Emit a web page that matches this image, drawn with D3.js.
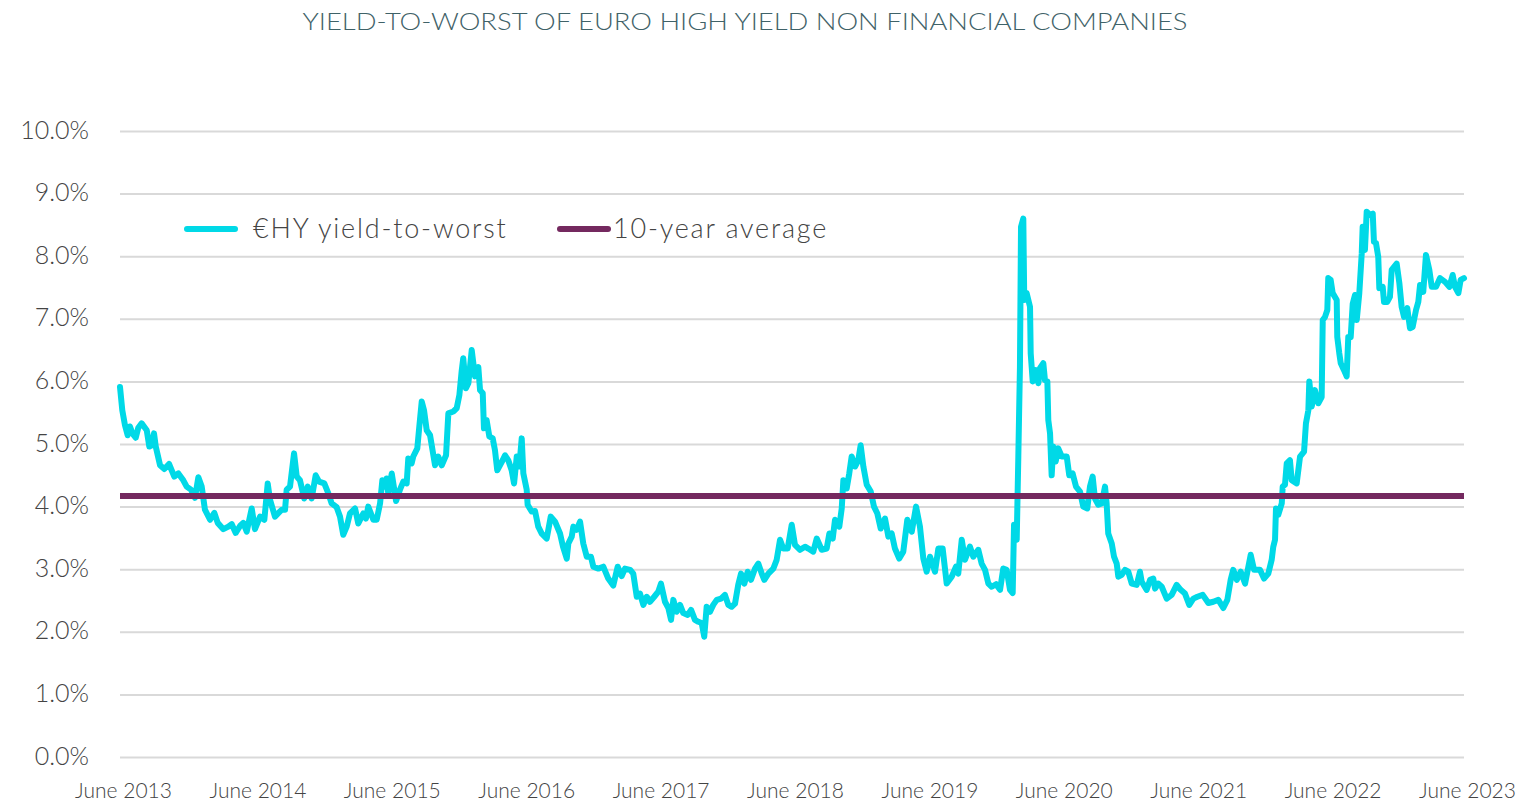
<!DOCTYPE html>
<html>
<head>
<meta charset="utf-8">
<script src="https://cdn.jsdelivr.net/npm/d3@7"></script>
<style>
  body { margin: 0; background: #fff; }
  text { font-family: Lato, "Noto Sans", sans-serif; font-weight: 300; }
</style>
</head>
<body>
<div id="chart"></div>
<script>
// chart text
const title = "YIELD-TO-WORST OF EURO HIGH YIELD NON FINANCIAL COMPANIES";
const seriesNames = ["€HY yield-to-worst", "10-year average"];

// dates as decimal years, yields in %
const dates = [
  2013.417, 2013.434, 2013.454, 2013.474, 2013.491, 2013.509, 2013.534, 2013.553, 2013.578, 2013.616,
  2013.635, 2013.653, 2013.670, 2013.683, 2013.715, 2013.747, 2013.782, 2013.821, 2013.851, 2013.888,
  2013.913, 2013.945, 2013.975, 2014.000, 2014.025, 2014.049, 2014.087, 2014.119, 2014.144, 2014.186,
  2014.223, 2014.248, 2014.278, 2014.310, 2014.334, 2014.360, 2014.397, 2014.421, 2014.459, 2014.491,
  2014.516, 2014.533, 2014.570, 2014.620, 2014.645, 2014.657, 2014.682, 2014.712, 2014.732, 2014.756,
  2014.788, 2014.814, 2014.843, 2014.873, 2014.898, 2014.937, 2014.967, 2014.992, 2015.029, 2015.054,
  2015.078, 2015.104, 2015.128, 2015.166, 2015.190, 2015.227, 2015.247, 2015.264, 2015.302, 2015.327,
  2015.352, 2015.369, 2015.389, 2015.401, 2015.413, 2015.439, 2015.471, 2015.500, 2015.525, 2015.550,
  2015.562, 2015.587, 2015.599, 2015.629, 2015.644, 2015.662, 2015.679, 2015.699, 2015.724, 2015.761,
  2015.785, 2015.811, 2015.843, 2015.860, 2015.897, 2015.922, 2015.942, 2015.959, 2015.971, 2015.991,
  2016.009, 2016.034, 2016.058, 2016.083, 2016.096, 2016.116, 2016.125, 2016.145, 2016.165, 2016.190,
  2016.207, 2016.224, 2016.264, 2016.282, 2016.306, 2016.331, 2016.349, 2016.369, 2016.388, 2016.406,
  2016.418, 2016.443, 2016.450, 2016.480, 2016.505, 2016.529, 2016.555, 2016.592, 2016.622, 2016.654,
  2016.691, 2016.713, 2016.741, 2016.753, 2016.778, 2016.790, 2016.815, 2016.840, 2016.864, 2016.890,
  2016.921, 2016.939, 2016.976, 2017.013, 2017.050, 2017.087, 2017.120, 2017.150, 2017.174, 2017.212,
  2017.236, 2017.262, 2017.286, 2017.311, 2017.336, 2017.360, 2017.392, 2017.422, 2017.442, 2017.472,
  2017.497, 2017.517, 2017.534, 2017.559, 2017.584, 2017.608, 2017.641, 2017.666, 2017.695, 2017.720,
  2017.745, 2017.764, 2017.782, 2017.807, 2017.831, 2017.857, 2017.889, 2017.918, 2017.943, 2017.968,
  2017.993, 2018.017, 2018.038, 2018.062, 2018.087, 2018.112, 2018.142, 2018.166, 2018.192, 2018.211,
  2018.241, 2018.278, 2018.303, 2018.328, 2018.352, 2018.385, 2018.415, 2018.439, 2018.477, 2018.514,
  2018.538, 2018.575, 2018.601, 2018.638, 2018.675, 2018.695, 2018.720, 2018.737, 2018.769, 2018.787,
  2018.799, 2018.824, 2018.843, 2018.861, 2018.886, 2018.910, 2018.928, 2018.948, 2018.973, 2019.003,
  2019.027, 2019.052, 2019.077, 2019.109, 2019.134, 2019.159, 2019.183, 2019.215, 2019.245, 2019.275,
  2019.308, 2019.340, 2019.369, 2019.394, 2019.419, 2019.444, 2019.481, 2019.506, 2019.538, 2019.568,
  2019.605, 2019.637, 2019.654, 2019.680, 2019.704, 2019.741, 2019.766, 2019.803, 2019.828, 2019.853,
  2019.878, 2019.903, 2019.935, 2019.965, 2019.989, 2020.014, 2020.039, 2020.059, 2020.069, 2020.089,
  2020.101, 2020.113, 2020.121, 2020.138, 2020.145, 2020.163, 2020.188, 2020.193, 2020.208, 2020.232,
  2020.250, 2020.262, 2020.287, 2020.299, 2020.317, 2020.324, 2020.337, 2020.349, 2020.361, 2020.379,
  2020.398, 2020.424, 2020.461, 2020.480, 2020.505, 2020.530, 2020.560, 2020.584, 2020.614, 2020.634,
  2020.654, 2020.671, 2020.696, 2020.721, 2020.746, 2020.758, 2020.770, 2020.796, 2020.813, 2020.833,
  2020.845, 2020.870, 2020.895, 2020.919, 2020.945, 2020.982, 2021.006, 2021.019, 2021.056, 2021.081,
  2021.105, 2021.118, 2021.143, 2021.168, 2021.205, 2021.242, 2021.279, 2021.309, 2021.341, 2021.373,
  2021.403, 2021.433, 2021.473, 2021.515, 2021.552, 2021.589, 2021.626, 2021.656, 2021.681, 2021.700,
  2021.726, 2021.756, 2021.788, 2021.830, 2021.855, 2021.899, 2021.929, 2021.961, 2021.986, 2021.998,
  2022.011, 2022.018, 2022.035, 2022.061, 2022.068, 2022.085, 2022.098, 2022.122, 2022.135, 2022.172,
  2022.197, 2022.227, 2022.241, 2022.259, 2022.266, 2022.284, 2022.308, 2022.333, 2022.358, 2022.366,
  2022.383, 2022.400, 2022.407, 2022.425, 2022.440, 2022.470, 2022.474, 2022.489, 2022.500, 2022.524,
  2022.544, 2022.556, 2022.574, 2022.589, 2022.606, 2022.619, 2022.638, 2022.656, 2022.663, 2022.680,
  2022.693, 2022.718, 2022.738, 2022.747, 2022.762, 2022.779, 2022.787, 2022.812, 2022.822, 2022.846,
  2022.866, 2022.879, 2022.916, 2022.936, 2022.953, 2022.971, 2022.995, 2023.015, 2023.035, 2023.060,
  2023.077, 2023.090, 2023.114, 2023.134, 2023.159, 2023.177, 2023.209, 2023.238, 2023.276, 2023.308,
  2023.333, 2023.350, 2023.375, 2023.392, 2023.417
];

const ytw = [
  5.91, 5.54, 5.30, 5.14, 5.28, 5.17, 5.10, 5.26, 5.33, 5.22,
  4.96, 4.98, 5.17, 4.96, 4.66, 4.60, 4.68, 4.48, 4.53, 4.42,
  4.32, 4.27, 4.14, 4.47, 4.32, 3.95, 3.79, 3.90, 3.74, 3.64,
  3.68, 3.72, 3.58, 3.69, 3.74, 3.60, 3.97, 3.64, 3.84, 3.79,
  4.37, 4.11, 3.84, 3.95, 3.95, 4.27, 4.32, 4.85, 4.48, 4.42,
  4.13, 4.32, 4.13, 4.50, 4.40, 4.37, 4.21, 4.05, 3.99, 3.84,
  3.55, 3.68, 3.89, 3.97, 3.73, 3.89, 3.81, 4.00, 3.79, 3.79,
  4.05, 4.42, 4.32, 4.45, 4.21, 4.53, 4.09, 4.27, 4.40, 4.37,
  4.77, 4.69, 4.80, 4.93, 5.28, 5.68, 5.54, 5.22, 5.14, 4.66,
  4.80, 4.66, 4.82, 5.49, 5.52, 5.57, 5.78, 6.16, 6.37, 5.89,
  5.97, 6.50, 6.08, 6.23, 5.86, 5.81, 5.25, 5.38, 5.12, 5.09,
  4.90, 4.58, 4.74, 4.82, 4.74, 4.58, 4.37, 4.80, 4.64, 5.09,
  4.53, 4.27, 4.03, 3.92, 3.93, 3.68, 3.57, 3.49, 3.84, 3.76,
  3.57, 3.36, 3.17, 3.41, 3.52, 3.68, 3.63, 3.76, 3.41, 3.20,
  3.20, 3.04, 3.01, 3.04, 2.85, 2.74, 3.04, 2.89, 3.01, 2.99,
  2.93, 2.56, 2.61, 2.43, 2.56, 2.48, 2.56, 2.64, 2.77, 2.48,
  2.38, 2.19, 2.51, 2.32, 2.43, 2.30, 2.27, 2.35, 2.19, 2.16,
  2.14, 1.92, 2.40, 2.32, 2.43, 2.51, 2.53, 2.59, 2.43, 2.40,
  2.45, 2.75, 2.93, 2.77, 2.96, 2.83, 3.01, 3.09, 2.93, 2.83,
  2.93, 3.01, 3.15, 3.47, 3.33, 3.33, 3.71, 3.39, 3.31, 3.36,
  3.33, 3.28, 3.49, 3.31, 3.33, 3.57, 3.49, 3.79, 3.68, 3.97,
  4.42, 4.29, 4.53, 4.80, 4.64, 4.74, 4.98, 4.64, 4.35, 4.24,
  4.00, 3.89, 3.65, 3.81, 3.52, 3.57, 3.33, 3.17, 3.28, 3.79,
  3.60, 4.00, 3.68, 3.17, 2.96, 3.20, 2.96, 3.33, 3.33, 2.77,
  2.88, 3.04, 2.93, 3.47, 3.15, 3.36, 3.20, 3.31, 3.09, 2.99,
  2.77, 2.72, 2.76, 2.67, 3.01, 2.99, 2.67, 2.62, 3.71, 3.47,
  4.80, 6.23, 8.47, 8.60, 7.30, 7.41, 7.19, 6.45, 6.00, 6.18,
  5.97, 6.21, 6.29, 6.02, 6.00, 5.38, 5.17, 4.50, 4.96, 4.72,
  4.93, 4.80, 4.80, 4.50, 4.53, 4.32, 4.24, 4.00, 3.97, 4.32,
  4.48, 4.13, 4.03, 4.05, 4.32, 4.05, 3.57, 3.41, 3.20, 3.09,
  2.88, 2.91, 2.99, 2.96, 2.77, 2.75, 2.96, 2.80, 2.67, 2.83,
  2.85, 2.69, 2.77, 2.72, 2.53, 2.59, 2.75, 2.67, 2.61, 2.43,
  2.53, 2.56, 2.59, 2.46, 2.48, 2.51, 2.38, 2.51, 2.83, 2.99,
  2.83, 2.96, 2.77, 3.23, 2.99, 2.99, 2.85, 2.93, 3.15, 3.36,
  3.47, 3.97, 3.87, 4.05, 4.32, 4.35, 4.69, 4.74, 4.42, 4.37,
  4.80, 4.88, 5.33, 5.54, 6.00, 5.60, 5.86, 5.65, 5.75, 6.98,
  7.03, 7.14, 7.65, 7.62, 7.41, 7.30, 6.71, 6.45, 6.29, 6.18,
  6.08, 6.71, 6.71, 7.24, 7.38, 6.98, 7.41, 8.04, 8.47, 8.10,
  8.71, 8.66, 8.68, 8.23, 8.21, 7.99, 7.49, 7.51, 7.27, 7.27,
  7.35, 7.78, 7.88, 7.57, 7.19, 7.03, 7.17, 6.85, 6.87, 7.14,
  7.27, 7.54, 7.43, 8.02, 7.78, 7.51, 7.51, 7.65, 7.59, 7.51,
  7.70, 7.51, 7.41, 7.62, 7.65
];

const tenYearAvg = 4.17;

const yTicks = [0, 1, 2, 3, 4, 5, 6, 7, 8, 9, 10];
const xTickDates = [2013.417, 2014.417, 2015.417, 2016.417, 2017.417, 2018.417,
                    2019.417, 2020.417, 2021.417, 2022.417, 2023.417];
const xTickLabels = ["June 2013", "June 2014", "June 2015", "June 2016", "June 2017", "June 2018",
                     "June 2019", "June 2020", "June 2021", "June 2022", "June 2023"];

const width = 1522, height = 801;
const margin = { top: 131, right: 58, bottom: 44, left: 120 };

const data = dates.map((t, i) => ({ t: t, v: ytw[i] }));

const svg = d3.select("#chart")
  .append("svg")
  .attr("width", width)
  .attr("height", height);

const x = d3.scaleLinear()
  .domain([xTickDates[0], xTickDates[xTickDates.length - 1]])
  .range([margin.left, width - margin.right]);

const y = d3.scaleLinear()
  .domain([0, 10])
  .range([height - margin.bottom, margin.top]);

// title
svg.append("text")
  .attr("x", 745)
  .attr("y", 30)
  .attr("text-anchor", "middle")
  .attr("textLength", 885)
  .attr("lengthAdjust", "spacingAndGlyphs")
  .style("font-size", "24px")
  .style("fill", "#3f6268")
  .text(title);

// y axis with gridlines
const yAxis = svg.append("g")
  .attr("transform", "translate(" + margin.left + ",0)")
  .call(d3.axisLeft(y)
    .tickValues(yTicks)
    .tickFormat(d => d.toFixed(1) + "%")
    .tickSize(-(width - margin.left - margin.right))
    .tickPadding(31));

yAxis.select(".domain").remove();
yAxis.selectAll("line")
  .attr("stroke", "#d9d9d9")
  .attr("stroke-width", 2);
yAxis.selectAll("text")
  .attr("dy", "0.32em")
  .attr("y", -1)
  .style("font-size", "25px")
  .style("fill", "#444");

// x axis labels
const xAxis = svg.append("g")
  .attr("transform", "translate(0," + (height - margin.bottom) + ")")
  .call(d3.axisBottom(x)
    .tickValues(xTickDates)
    .tickFormat((d, i) => xTickLabels[i])
    .tickSize(0));

xAxis.select(".domain").remove();
xAxis.selectAll("text")
  .attr("y", 41)
  .attr("dy", 0)
  .attr("x", 3)
  .style("font-size", "21px")
  .style("fill", "#444");

// series line
const line = d3.line()
  .x(d => x(d.t))
  .y(d => y(d.v));

svg.append("path")
  .datum(data)
  .attr("fill", "none")
  .attr("stroke", "#00d9e7")
  .attr("stroke-width", 6)
  .attr("stroke-linejoin", "round")
  .attr("stroke-linecap", "round")
  .attr("d", line);

// 10-year average
svg.append("path")
  .datum(x.domain().map(t => ({ t: t, v: tenYearAvg })))
  .attr("fill", "none")
  .attr("stroke", "#74295f")
  .attr("stroke-width", 6)
  .attr("d", line);

// legend
const legendColors = ["#00d9e7", "#74295f"];
const legendX = [187, 560];
const legend = svg.append("g");
seriesNames.forEach((name, i) => {
  legend.append("line")
    .attr("x1", legendX[i])
    .attr("x2", legendX[i] + 48)
    .attr("y1", 229)
    .attr("y2", 229)
    .attr("stroke", legendColors[i])
    .attr("stroke-width", 6)
    .attr("stroke-linecap", "round");
  legend.append("text")
    .attr("x", i === 0 ? 253 : 613)
    .attr("y", 229)
    .attr("dy", "0.35em")
    .style("font-size", "27px")
    .style("letter-spacing", "1.8px")
    .style("fill", "#444")
    .text(name);
});
</script>
</body>
</html>
